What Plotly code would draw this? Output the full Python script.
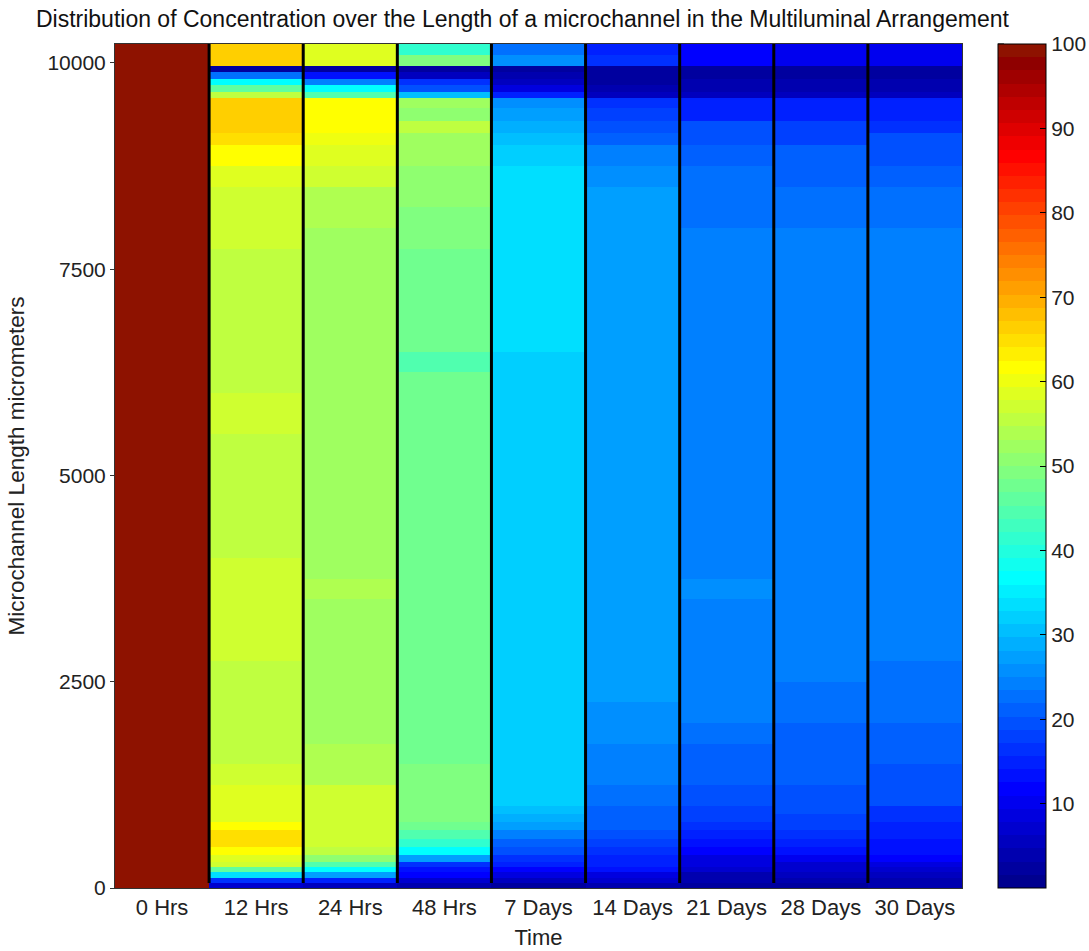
import plotly.graph_objects as go

# ---- data -------------------------------------------------------------
time_labels = ["0 Hrs", "12 Hrs", "24 Hrs", "48 Hrs", "7 Days",
               "14 Days", "21 Days", "28 Days", "30 Days"]

# row boundaries along the microchannel (micrometers), bottom to top
length_edges = [0, 60, 120, 190, 250, 320, 400, 500, 600, 700,
                800, 900, 1000, 1250, 1500, 1750, 2000, 2250, 2500, 2750,
                3000, 3250, 3500, 3750, 4000, 4500, 5000, 5500, 6000, 6250,
                6500, 7000, 7500, 7750, 8000, 8250, 8500, 8750, 9000, 9150,
                9300, 9450, 9580, 9650, 9730, 9800, 9890, 9964, 10100, 10230]

# concentration in each row (bottom to top) for every time point
conc_0h = [100, 100, 100, 100, 100, 100, 100, 100, 100, 100,
           100, 100, 100, 100, 100, 100, 100, 100, 100, 100,
           100, 100, 100, 100, 100, 100, 100, 100, 100, 100,
           100, 100, 100, 100, 100, 100, 100, 100, 100, 100,
           100, 100, 100, 100, 100, 100, 100, 100, 100]
conc_12h = [7.0, 16.4, 34.0, 46.0, 57.0, 59.0, 61.7, 64.8, 64.8, 61.7,
            59.0, 58.6, 58.6, 57.0, 55.5, 55.5, 55.5, 55.5, 56.0, 57.0,
            57.0, 57.0, 57.0, 57.0, 55.5, 55.5, 55.5, 57.0, 55.5, 55.5,
            55.5, 55.5, 55.5, 57.0, 57.0, 57.0, 58.6, 61.7, 64.8, 66.4,
            66.4, 66.4, 55.5, 46.0, 36.7, 22.0, 2.3, 66.4, 66.4]
conc_24h = [5.5, 14.8, 27.3, 36.7, 44.5, 50.8, 55.5, 57.0, 57.0, 57.0,
            57.0, 57.0, 57.0, 53.9, 53.9, 52.3, 52.3, 52.3, 52.3, 52.3,
            52.3, 52.3, 53.9, 52.3, 52.3, 52.3, 52.3, 52.3, 52.3, 52.3,
            52.3, 52.3, 52.3, 52.3, 53.9, 53.9, 57.0, 58.6, 60.2, 61.7,
            61.7, 61.7, 44.5, 36.7, 24.2, 13.3, 2.3, 58.6, 58.6]
conc_48h = [3.9, 7.0, 11.7, 13.3, 16.4, 27.3, 36.7, 41.4, 44.5, 47.7,
            49.2, 49.2, 49.2, 49.2, 47.7, 47.7, 47.7, 47.7, 47.7, 47.7,
            47.7, 47.7, 47.7, 47.7, 47.7, 47.7, 47.7, 47.7, 47.7, 44.5,
            47.7, 47.7, 47.7, 49.2, 49.2, 50.8, 50.8, 52.3, 52.3, 55.5,
            50.8, 52.3, 30.5, 19.5, 16.4, 5.5, 2.3, 49.2, 41.4]
conc_7d = [2.3, 5.5, 8.6, 11.7, 14.8, 16.4, 19.5, 21.1, 24.2, 27.3,
           28.9, 30.5, 32.0, 32.0, 32.0, 32.0, 32.0, 32.0, 32.0, 32.0,
           32.0, 32.0, 32.0, 32.0, 32.0, 32.0, 32.0, 32.0, 32.0, 32.0,
           33.6, 33.6, 33.6, 33.6, 33.6, 33.6, 33.6, 32.0, 30.5, 28.9,
           27.3, 25.8, 14.8, 8.6, 5.5, 3.9, 2.3, 25.8, 22.7]
conc_14d = [3.9, 7.0, 8.6, 13.3, 14.8, 14.8, 16.4, 18.0, 19.5, 21.1,
            21.1, 21.1, 22.7, 24.2, 24.2, 25.8, 25.8, 27.3, 27.3, 27.3,
            27.3, 27.3, 27.3, 27.3, 27.3, 27.3, 27.3, 27.3, 27.3, 27.3,
            27.3, 27.3, 27.3, 27.3, 27.3, 27.3, 25.8, 24.2, 21.1, 19.5,
            18.0, 16.4, 5.5, 3.9, 2.3, 2.3, 2.3, 16.4, 14.8]
conc_21d = [2.3, 3.9, 3.9, 7.0, 8.6, 8.6, 11.7, 13.3, 14.8, 16.4,
            18.0, 18.0, 19.5, 21.1, 21.1, 22.7, 24.2, 24.2, 24.2, 24.2,
            24.2, 24.2, 25.8, 24.2, 24.2, 24.2, 24.2, 24.2, 24.2, 24.2,
            24.2, 24.2, 24.2, 24.2, 22.7, 22.7, 22.7, 21.1, 19.5, 19.5,
            14.8, 14.8, 5.5, 3.9, 3.9, 2.3, 2.3, 11.7, 11.7]
conc_28d = [2.3, 3.9, 5.5, 7.0, 7.0, 10.2, 13.3, 14.8, 16.4, 18.0,
            18.0, 19.5, 19.5, 21.1, 21.1, 21.1, 22.7, 22.7, 24.2, 24.2,
            24.2, 24.2, 24.2, 24.2, 24.2, 24.2, 24.2, 24.2, 24.2, 24.2,
            24.2, 24.2, 24.2, 24.2, 22.7, 22.7, 21.1, 21.1, 18.0, 18.0,
            14.8, 14.8, 5.5, 3.9, 3.9, 2.3, 2.3, 10.2, 10.2]
conc_30d = [3.9, 3.9, 5.5, 7.0, 8.6, 11.7, 13.3, 13.3, 14.8, 14.8,
            16.4, 16.4, 19.5, 19.5, 21.1, 21.1, 22.7, 22.7, 22.7, 24.2,
            24.2, 24.2, 24.2, 24.2, 24.2, 24.2, 24.2, 24.2, 24.2, 24.2,
            24.2, 24.2, 24.2, 24.2, 22.7, 22.7, 21.1, 19.5, 19.5, 16.4,
            14.8, 14.8, 5.5, 3.9, 3.9, 2.3, 2.3, 10.2, 10.2]

colorbar_ticks = [10, 20, 30, 40, 50, 60, 70, 80, 90, 100]
length_ticks = [0, 2500, 5000, 7500, 10000]

columns = [conc_0h, conc_12h, conc_24h, conc_48h, conc_7d,
           conc_14d, conc_21d, conc_28d, conc_30d]
n_rows = len(length_edges) - 1
z = [[col[r] for col in columns] for r in range(n_rows)]


# ---- 64-level jet colormap (stepped) -----------------------------------
def jet(n=64):
    m = -(-n // 4)
    u = [i / m for i in range(1, m + 1)] + [1.0] * (m - 1) + [i / m for i in range(m, 0, -1)]
    g0 = -(-m // 2) - (1 if n % 4 == 1 else 0)
    rgb = [[0.0, 0.0, 0.0] for _ in range(n)]
    for j, val in enumerate(u):
        gi = g0 + j          # 0-based green index
        ri = gi + m
        bi = gi - m
        if 0 <= ri < n:
            rgb[ri][0] = val
        if 0 <= gi < n:
            rgb[gi][1] = val
        if 0 <= bi < n:
            rgb[bi][2] = val
    return ["rgb(%d,%d,%d)" % tuple(round(c * 255) for c in col) for col in rgb]


jet64 = jet(64)
jet64[-1] = "rgb(142,18,0)"   # top of the scale, as rendered in the figure
colorscale = []
for i, c in enumerate(jet64):
    colorscale.append([i / 64, c])
    colorscale.append([(i + 1) / 64, c])

FONT = "Liberation Sans, Arial, Helvetica, sans-serif"
zmin, zmax = 0, 100
cb_x = 1.0425

fig = go.Figure()
fig.add_trace(go.Heatmap(
    x=time_labels,
    y=length_edges,
    z=z,
    zmin=zmin,
    zmax=zmax,
    zsmooth=False,
    colorscale=colorscale,
    hoverinfo="skip",
    colorbar=dict(
        x=cb_x, xanchor="left", xpad=0,
        y=0.5, yanchor="middle", ypad=0,
        len=1, lenmode="fraction",
        thickness=48,
        outlinewidth=1, outlinecolor="#000000",
        ticks="inside", ticklen=6, tickcolor="#000000", tickwidth=1,
        tickvals=colorbar_ticks,
        tickfont=dict(family=FONT, size=21, color="#222222"),
    ),
))

# black separators between time points
shapes = []
for i in range(1, len(time_labels)):
    shapes.append(dict(type="line", xref="x", yref="y",
                       x0=i - 0.5, x1=i - 0.5, y0=60, y1=10230,
                       line=dict(color="#000000", width=3)))
# tick marks on the left side of the colorbar
for v in colorbar_ticks:
    yy = (v - zmin) / (zmax - zmin)
    shapes.append(dict(type="line", xref="paper", yref="paper",
                       x0=cb_x, x1=cb_x + 6 / 847, y0=yy, y1=yy,
                       line=dict(color="#000000", width=1)))

fig.update_layout(
    width=1089, height=951,
    margin=dict(l=115, r=127, t=44, b=63, autoexpand=False),
    paper_bgcolor="white", plot_bgcolor="white",
    font=dict(family=FONT, size=21, color="#222222"),
    title=dict(text="Distribution of Concentration over the Length of a microchannel in the Multiluminal Arrangement",
               x=0.481, xref="paper", xanchor="center",
               y=1 - 19 / 951, yref="container", yanchor="middle",
               font=dict(family=FONT, size=23, color="#111111")),
    xaxis=dict(type="category", range=[-0.5, len(time_labels) - 0.5],
               showline=True, mirror=True, linecolor="#333333", linewidth=1,
               ticks="", showgrid=False, zeroline=False,
               tickfont=dict(family=FONT, size=22, color="#222222"),
               title=dict(text="Time", standoff=10,
                          font=dict(family=FONT, size=22, color="#222222"))),
    yaxis=dict(range=[0, 10230], tickvals=length_ticks,
               ticktext=[str(v) for v in length_ticks],
               showline=True, mirror=True, linecolor="#333333", linewidth=1,
               ticks="outside", ticklen=4, tickcolor="#333333",
               showgrid=False, zeroline=False,
               tickfont=dict(family=FONT, size=21, color="#222222"),
               title=dict(text="Microchannel Length micrometers", standoff=16,
                          font=dict(family=FONT, size=22.5, color="#222222"))),
    shapes=shapes,
)

fig.write_html("out.html")
